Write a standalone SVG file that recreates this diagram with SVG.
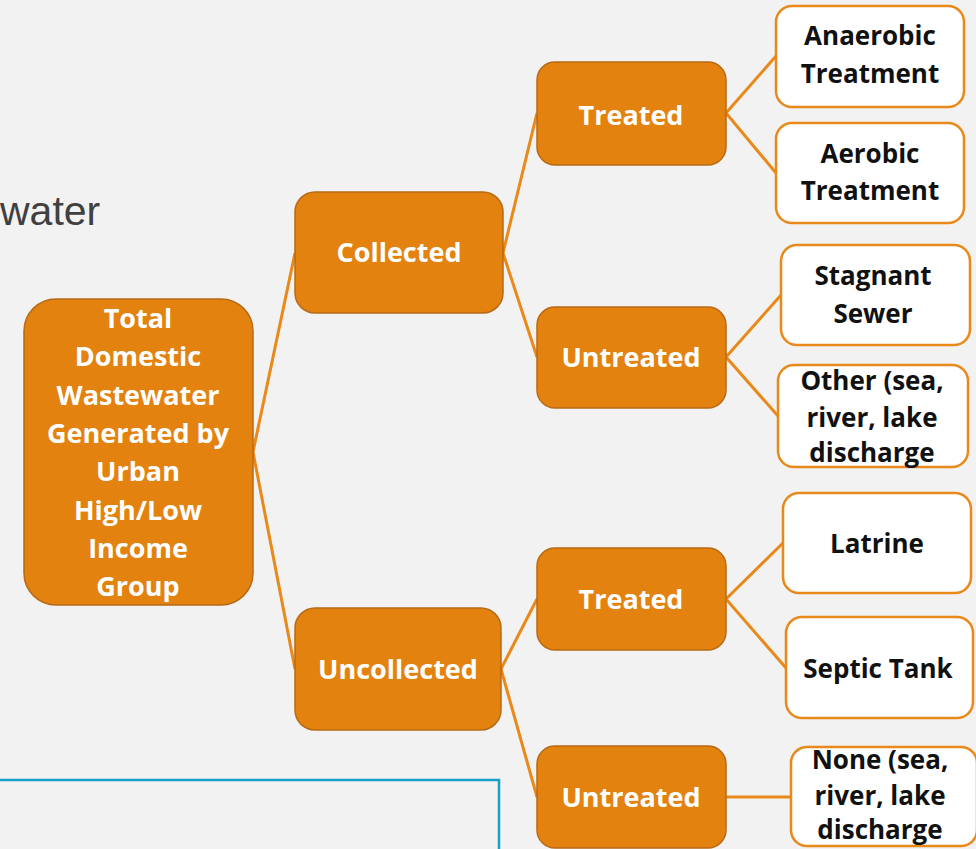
<svg xmlns="http://www.w3.org/2000/svg" width="976" height="849" viewBox="0 0 976 849">
<style>
.bg{fill:#f2f2f2}
.on{fill:#e3820f;stroke:#b86a14;stroke-width:1.5}
.lf{fill:#ffffff;stroke:#e8891a;stroke-width:2.5}
.tw{font-family:"Open Sans","Noto Sans",sans-serif;font-weight:700;font-size:27px;fill:#ffffff;text-anchor:middle}
.tb{font-family:"Open Sans","Noto Sans",sans-serif;font-weight:700;font-size:26px;fill:#111111;text-anchor:middle}
.cn{stroke:#e8891a;stroke-width:3;fill:none}
</style>
<rect class="bg" x="0" y="0" width="976" height="849"/>
<text x="0" y="225" font-family="'Liberation Sans',Arial,sans-serif" font-size="41" fill="#404040">water</text>
<rect x="-5" y="780" width="504" height="80" fill="none" stroke="#17a0c8" stroke-width="2.5"/>
<g id="connectors">
<line class="cn" x1="253" y1="452" x2="295" y2="253"/>
<line class="cn" x1="253" y1="452" x2="295" y2="669"/>
<line class="cn" x1="503" y1="253" x2="537" y2="113"/>
<line class="cn" x1="503" y1="253" x2="537" y2="357"/>
<line class="cn" x1="501" y1="669" x2="537" y2="599"/>
<line class="cn" x1="501" y1="669" x2="537" y2="797"/>
<line class="cn" x1="726" y1="113" x2="776" y2="56"/>
<line class="cn" x1="726" y1="113" x2="776" y2="173"/>
<line class="cn" x1="726" y1="357" x2="781" y2="295"/>
<line class="cn" x1="726" y1="357" x2="778" y2="416"/>
<line class="cn" x1="726" y1="599" x2="783" y2="543"/>
<line class="cn" x1="726" y1="599" x2="786" y2="668"/>
<line class="cn" x1="726" y1="797" x2="791" y2="797"/>
</g>
<g id="root">
<rect class="on" x="24" y="299" width="229" height="306" rx="32"/>
<text class="tw" x="138" y="328">Total</text>
<text class="tw" x="138" y="366">Domestic</text>
<text class="tw" x="138" y="405">Wastewater</text>
<text class="tw" x="138" y="443">Generated by</text>
<text class="tw" x="138" y="481">Urban</text>
<text class="tw" x="138" y="520">High/Low</text>
<text class="tw" x="138" y="558">Income</text>
<text class="tw" x="138" y="596">Group</text>
</g>
<g id="collected">
<rect class="on" x="295" y="192" width="208" height="121" rx="20"/>
<text class="tw" x="399" y="262">Collected</text>
</g>
<g id="uncollected">
<rect class="on" x="295" y="608" width="206" height="122" rx="20"/>
<text class="tw" x="398" y="679">Uncollected</text>
</g>
<g id="treated1">
<rect class="on" x="537" y="62" width="189" height="103" rx="18"/>
<text class="tw" x="631" y="125">Treated</text>
</g>
<g id="untreated1">
<rect class="on" x="537" y="307" width="189" height="101" rx="18"/>
<text class="tw" x="631" y="367">Untreated</text>
</g>
<g id="treated2">
<rect class="on" x="537" y="548" width="189" height="102" rx="18"/>
<text class="tw" x="631" y="609">Treated</text>
</g>
<g id="untreated2">
<rect class="on" x="537" y="746" width="189" height="102" rx="18"/>
<text class="tw" x="631" y="807">Untreated</text>
</g>
<g id="anaerobic">
<rect class="lf" x="776" y="6" width="188" height="101" rx="16"/>
<text class="tb" x="870" y="45">Anaerobic</text>
<text class="tb" x="870" y="83">Treatment</text>
</g>
<g id="aerobic">
<rect class="lf" x="776" y="123" width="188" height="100" rx="16"/>
<text class="tb" x="870" y="163">Aerobic</text>
<text class="tb" x="870" y="200">Treatment</text>
</g>
<g id="stagnant">
<rect class="lf" x="781" y="245" width="189" height="100" rx="16"/>
<text class="tb" x="873" y="285">Stagnant</text>
<text class="tb" x="873" y="323">Sewer</text>
</g>
<g id="other">
<rect class="lf" x="778" y="365" width="190" height="102" rx="16"/>
<text class="tb" x="872" y="390">Other (sea,</text>
<text class="tb" x="872" y="427">river, lake</text>
<text class="tb" x="872" y="462">discharge</text>
</g>
<g id="latrine">
<rect class="lf" x="783" y="493" width="188" height="100" rx="16"/>
<text class="tb" x="877" y="553">Latrine</text>
</g>
<g id="septic">
<rect class="lf" x="786" y="617" width="187" height="101" rx="16"/>
<text class="tb" x="878" y="678">Septic Tank</text>
</g>
<g id="none">
<rect class="lf" x="791" y="747" width="186" height="99" rx="16"/>
<text class="tb" x="880" y="769">None (sea,</text>
<text class="tb" x="880" y="805">river, lake</text>
<text class="tb" x="880" y="839">discharge</text>
</g>
</svg>
